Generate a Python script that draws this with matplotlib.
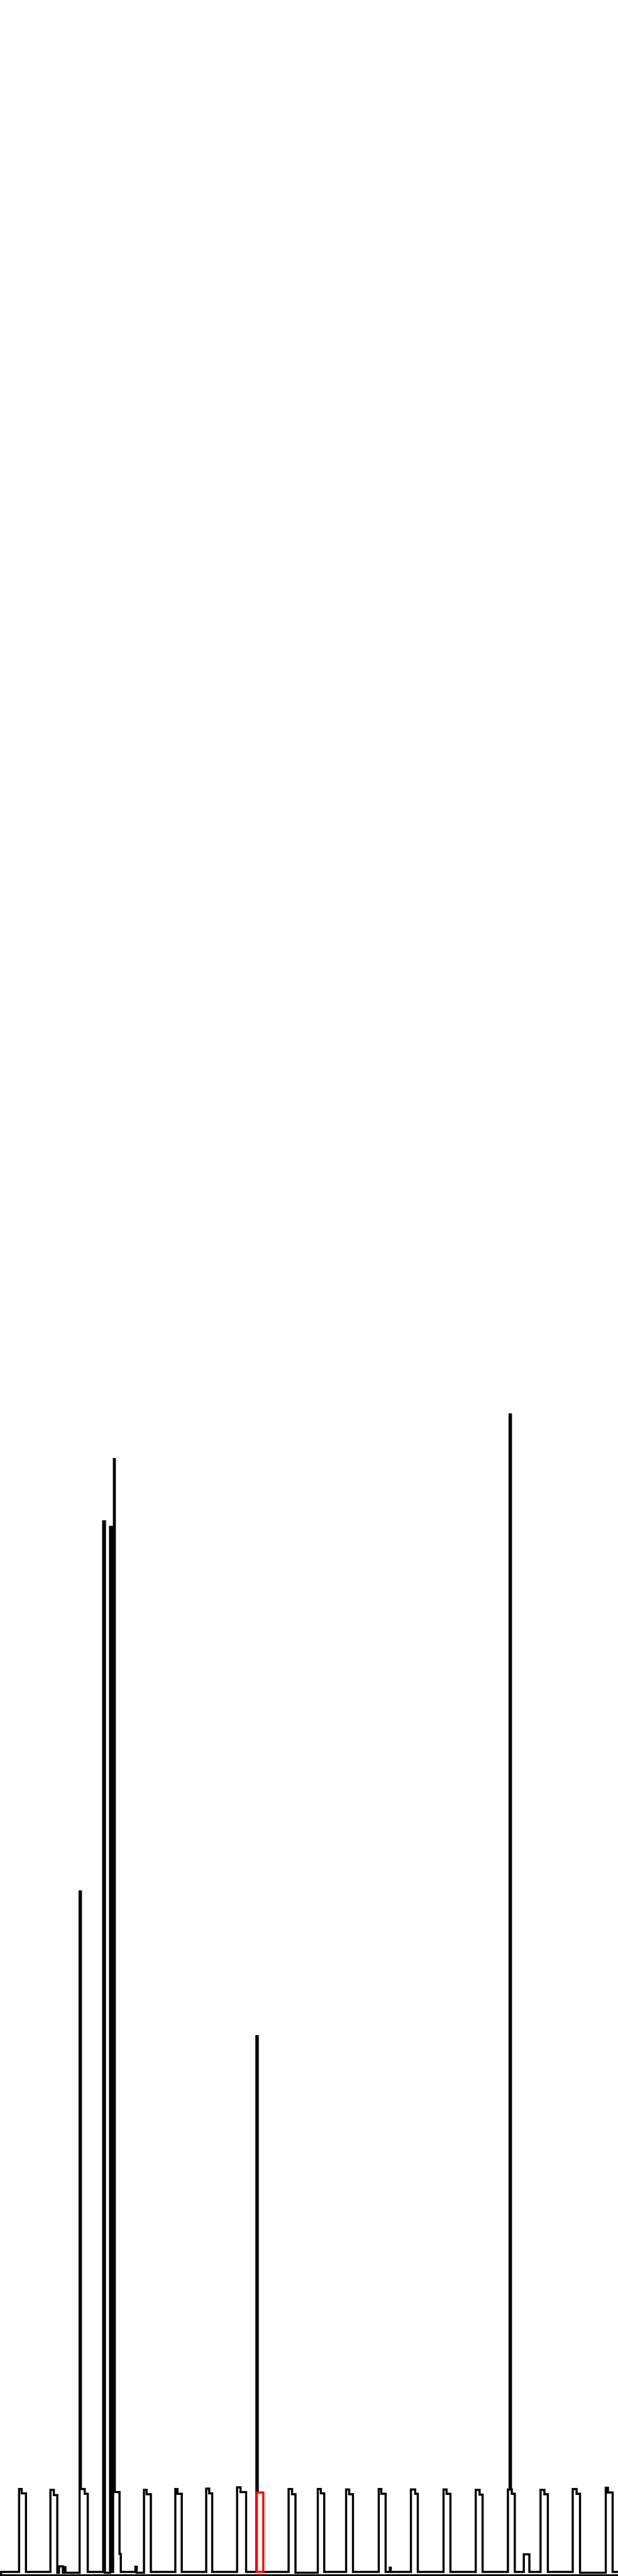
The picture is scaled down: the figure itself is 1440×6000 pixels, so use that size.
import numpy as np
import matplotlib.pyplot as plt

# outlined bars along one baseline; x and heights
# (x runs 0..1440, height 0..6000 measured up from the bottom edge)
bar_left     = [43.5, 117, 137, 147, 184.5, 240, 256, 262.5, 315, 334.5, 407.5, 479.5, 551.5, 597.5,
                671.5, 739.5, 806, 881.5, 907.5, 956.5, 1032.5, 1107.5, 1182.5, 1219.5, 1258.5, 1333.5, 1410.5]
bar_bump_end = [49.5, 124.5, 146, 151.5, 196.5, 240, 256, 262.5, 315, 341, 413, 486.5, 560, 597.5,
                680, 747, 813, 888, 907.5, 966.5, 1040, 1116.5, 1191.5, 1219.5, 1268, 1343, 1415.5]
bar_right    = [59.5, 132.5, 146, 151.5, 203.5, 243.5, 259.5, 277.5, 318, 350.5, 423, 494, 572.5, 612.5,
                688, 755, 822, 898, 910, 973, 1049, 1124, 1199, 1233, 1276, 1351, 1427]
bump_top     = [203, 201, 23, 21, 203, 2457, 2444, 196, 22, 201, 203, 204, 207, 195,
                203, 203, 202, 203, 20, 202, 202, 201, 202, 51, 201, 203, 206]
shoulder_top = [193, 189, 23, 21, 192, 2457, 2444, 196, 22, 191, 192, 193, 196, 195,
                191, 193, 191, 192, 20, 192, 192, 190, 192, 51, 191, 192, 195]

# tall spikes sitting on some of the bars
spike_bar    = [4, 7, 13, 22]
spike_offset = [0, 2, -1, 4]
spike_width  = [3, 2.5, 3.5, 3]
spike_top    = [1595, 2602, 1258, 2706]

# bar 7 has a small step at its foot
foot_bar, foot_top, foot_right = 7, 52, 281

# gaps (after these bars) where the baseline sits a little lower
low_after = [1, 2, 3, 5, 8, 14, 25]
base, low = 10.5, 8.5
bottom_line = 2

highlight = 13  # drawn in red

#----------------------------------------------------------------------

xs = [1440, 1.5, 1.5]
ys = [bottom_line, bottom_line, base]
level = base
for i in range(len(bar_left)):
    L, B, R = bar_left[i], bar_bump_end[i], bar_right[i]
    bt, st = bump_top[i], shoulder_top[i]
    if i in spike_bar:
        k = spike_bar.index(i)
        x0 = L + spike_offset[k]
        if spike_offset[k] > 0:
            xs += [L, L, x0, x0]
            ys += [level, bt, bt, spike_top[k]]
        else:
            xs += [x0, x0]
            ys += [level, spike_top[k]]
        xs += [x0 + spike_width[k], x0 + spike_width[k]]
        ys += [spike_top[k], bt]
    else:
        xs += [L, L]
        ys += [level, bt]
    xs += [B, B, R]
    ys += [bt, st, st]
    if i == foot_bar:
        xs += [R, foot_right]
        ys += [foot_top, foot_top]
        R = foot_right
    level = low if i in low_after else base
    xs.append(R)
    ys.append(level)
xs.append(1440)
ys.append(base)

fig = plt.figure(figsize=(14.4, 60), dpi=100)
ax = fig.add_axes([0, 0, 1, 1])
ax.plot(xs, ys, color='black', lw=2.3, solid_joinstyle='miter', antialiased=False)

hl_x = (bar_left[highlight] + bar_right[highlight]) / 2
hl_w = bar_right[highlight] - bar_left[highlight]
ax.bar(hl_x, bump_top[highlight] - base, width=hl_w, bottom=base,
       fill=False, edgecolor='red', linewidth=2.3, antialiased=False, zorder=3)

ax.set_xlim(0, 1440)
ax.set_ylim(0, 6000)
ax.axis('off')
fig.savefig('out.png', dpi=100, facecolor='white')
